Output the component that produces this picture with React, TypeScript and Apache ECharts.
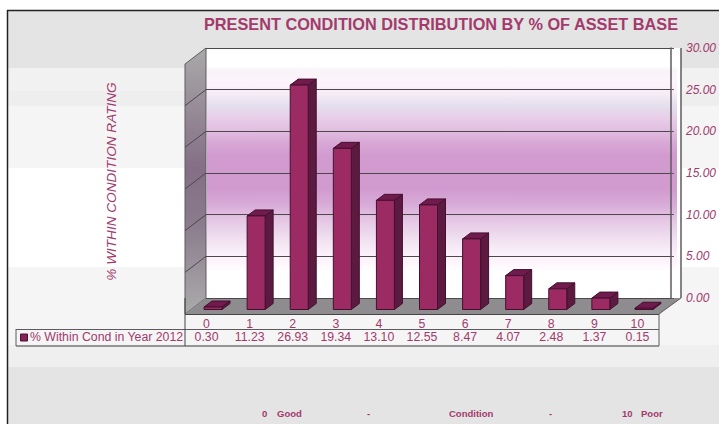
import React, { useEffect, useRef } from "react";
import * as echarts from "echarts";

// Share of the asset base at each condition rating, 2012
const conditions = ["0", "1", "2", "3", "4", "5", "6", "7", "8", "9", "10"];
const percentWithin = [0.3, 11.23, 26.93, 19.34, 13.1, 12.55, 8.47, 4.07, 2.48, 1.37, 0.15];
const valueLabels = ["0.30", "11.23", "26.93", "19.34", "13.10", "12.55", "8.47", "4.07", "2.48", "1.37", "0.15"];
const axisTicks = [0, 5, 10, 15, 20, 25, 30];

const titleText = "PRESENT CONDITION DISTRIBUTION BY % OF ASSET BASE";
const yAxisTitle = "% WITHIN CONDITION RATING";
const legendText = "% Within Cond in Year 2012";
const scaleNotes: [string, number][] = [
  ["0", 262],
  ["Good", 277],
  ["-", 367],
  ["Condition", 449],
  ["-", 549],
  ["10", 622],
  ["Poor", 641],
];

// Panel shading, top to bottom: [start y, end y, colour]
const panelBands: [number, number, string][] = [
  [11, 68, "#e4e4e4"],
  [68, 91, "#f1f1f1"],
  [91, 106, "#eeeeee"],
  [106, 168, "#f5f5f5"],
  [168, 267, "#ffffff"],
  [267, 345, "#f5f5f5"],
  [345, 367, "#f0eff0"],
  [367, 424, "#e4e4e4"],
];
// Back wall shading as gradient stops: [y, colour]
const wallStops: [number, string][] = [
  [48, "#ffffff"],
  [66, "#ffffff"],
  [70, "#f8f4f8"],
  [82, "#fdf4fb"],
  [94, "#f5ecf6"],
  [106, "#e4dfee"],
  [118, "#e8cde8"],
  [130, "#e2bfe1"],
  [142, "#d8a9d6"],
  [155, "#d29bd0"],
  [190, "#d29bd0"],
  [205, "#d8acd8"],
  [220, "#e5c6e4"],
  [232, "#ebd7ec"],
  [245, "#f5e7f4"],
  [254, "#faf0fa"],
  [263, "#fff5fc"],
  [272, "#ffffff"],
  [298, "#ffffff"],
];

const INK = "#a23a6c";
const LINE = "#5f5a5f";
const DEPTH_X = 8;
const DEPTH_Y = 6;
const BAR_W = 18;
const BAR_SHIFT = 6.5;

export default function App() {
  const ref = useRef<HTMLDivElement>(null);

  useEffect(() => {
    document.body.style.margin = "0";
    const chart = echarts.init(ref.current!, undefined, { renderer: "svg" });

    const seg = (x1: number, y1: number, x2: number, y2: number, color = LINE, width = 1, z = 20) => ({
      type: "line",
      z,
      shape: { x1, y1, x2, y2 },
      style: { stroke: color, lineWidth: width },
    });
    const label = (text: string, x: number, y: number, font: string, extra: object = {}) => ({
      type: "text",
      z: 20,
      x,
      y,
      style: { text, font, fill: INK, textVerticalAlign: "middle", ...extra },
    });

    const background: any[] = [
      { type: "rect", z: -30, shape: { x: 0, y: 0, width: 719, height: 424 }, style: { fill: "#ffffff" } },
      ...panelBands.map(([a, b, c]) => ({
        type: "rect",
        z: -29,
        shape: { x: 8, y: a, width: 711, height: b - a },
        style: { fill: c },
      })),
      { type: "rect", z: -28, shape: { x: 206, y: 48, width: 475, height: 250 }, style: { fill: "#ffffff" } },
      {
        type: "rect",
        z: -27,
        shape: { x: 207, y: 48, width: 470, height: 250 },
        style: {
          fill: new echarts.graphic.LinearGradient(
            0,
            0,
            0,
            1,
            wallStops.map(([y, color]) => ({ offset: (y - 48) / 250, color })),
          ),
        },
      },
      {
        type: "polygon",
        z: -26,
        shape: { points: [[206, 48], [185, 64], [185, 314], [206, 298]] },
        style: {
          stroke: LINE,
          lineWidth: 1,
          fill: new echarts.graphic.LinearGradient(0, 0, 0, 1, [
            { offset: 0, color: "#a9a9a9" },
            { offset: 0.45, color: "#846f86" },
            { offset: 0.65, color: "#8a7a8c" },
            { offset: 1, color: "#ababab" },
          ]),
        },
      },
      {
        type: "polygon",
        z: -26,
        shape: { points: [[206, 298], [681, 298], [659, 314], [185, 314]] },
        style: { fill: "#8e8c8e" },
      },
    ];

    const tableLines = [
      seg(7.5, 10, 7.5, 424, "#222222", 1.5),
      seg(7, 10.5, 719, 10.5, "#222222", 1.5),
      seg(681, 48, 681, 298, LINE, 1.5),
      seg(185, 314.5, 659, 314.5, "#444444"),
      seg(16, 329.5, 659, 329.5),
      seg(16, 346, 659, 346, "#777777", 1.5),
      seg(16, 329, 16, 346),
      seg(185, 298, 185, 346, "#444444"),
      seg(659, 314, 659, 346),
      seg(659, 314, 681, 298),
    ];

    const texts = [
      label(legendText, 30, 337, "12.3px 'Liberation Sans'"),
      label(yAxisTitle, 111, 181.5, "italic 13.6px 'Liberation Sans'", { textAlign: "center" }),
      ...scaleNotes.map(([t, x]) => label(t, x, 413, "bold 9.5px 'Liberation Sans'")),
    ];
    (texts[1] as any).rotation = Math.PI / 2;
    const swatch = {
      type: "rect",
      z: 20,
      shape: { x: 20.5, y: 334, width: 7, height: 7 },
      style: { fill: "#8a2056", stroke: "#4a1238", lineWidth: 1 },
    };

    chart.setOption({
      animation: false,
      title: {
        text: titleText,
        left: 436,
        top: 19,
        textAlign: "center",
        textVerticalAlign: "middle",
        textStyle: { fontFamily: "Liberation Sans", fontSize: 16.3, fontWeight: "bold", color: INK, lineHeight: 18 },
      },
      grid: [
        { left: 206, top: 48, width: 475, height: 250 },
        { left: 185, top: 59.5, width: 474, height: 250 },
      ],
      xAxis: [
        { type: "category", gridIndex: 0, data: conditions, show: false },
        {
          type: "category",
          gridIndex: 1,
          data: conditions,
          axisLine: { show: false },
          axisTick: { show: false },
          axisLabel: { color: INK, fontFamily: "Liberation Sans", fontSize: 12.3, margin: 8, interval: 0 },
        },
        {
          type: "category",
          gridIndex: 1,
          position: "bottom",
          data: valueLabels,
          axisLine: { show: false },
          axisTick: { show: false },
          axisLabel: { color: INK, fontFamily: "Liberation Sans", fontSize: 12.3, margin: 21, interval: 0 },
        },
      ],
      yAxis: [
        {
          type: "value",
          gridIndex: 0,
          position: "right",
          min: 0,
          max: 30,
          interval: 5,
          axisLine: { show: true, lineStyle: { color: LINE, width: 1.5 } },
          axisTick: { show: true, length: 3, lineStyle: { color: LINE } },
          splitLine: { show: true, lineStyle: { color: "#4d484d", width: 1 } },
          axisLabel: {
            color: INK,
            fontFamily: "Liberation Sans",
            fontStyle: "italic",
            fontSize: 12,
            margin: 15,
            formatter: (v: number) => v.toFixed(2),
          },
        },
        { type: "value", gridIndex: 1, min: 0, max: 30, show: false },
      ],
      series: [
        {
          // Gridlines continuing across the slanted left wall
          type: "custom",
          xAxisIndex: 0,
          yAxisIndex: 0,
          z: 1,
          silent: true,
          data: axisTicks.slice(1, -1).map((t) => [0, t]),
          renderItem: (params: any, api: any) => {
            const y = api.coord([0, api.value(1)])[1];
            const x = params.coordSys.x;
            return {
              type: "line",
              shape: { x1: x, y1: y, x2: x - 21, y2: y + 16 },
              style: { stroke: "#4d484d", lineWidth: 1 },
            };
          },
        },
        {
          // Extruded bars: front, side and top faces
          type: "custom",
          xAxisIndex: 1,
          yAxisIndex: 1,
          z: 5,
          data: percentWithin.map((v, i) => [i, v]),
          encode: { x: 0, y: 1 },
          renderItem: (_params: any, api: any) => {
            const [cx, top] = api.coord([api.value(0), api.value(1)]);
            const base = api.coord([api.value(0), 0])[1];
            const l = cx + BAR_SHIFT - BAR_W / 2;
            const r = l + BAR_W;
            const edge = { stroke: "#43102f", lineWidth: 1 };
            return {
              type: "group",
              children: [
                {
                  type: "polygon",
                  shape: { points: [[r, top], [r + DEPTH_X, top - DEPTH_Y], [r + DEPTH_X, base - DEPTH_Y], [r, base]] },
                  style: { fill: "#5c1a40", ...edge },
                },
                {
                  type: "polygon",
                  shape: { points: [[l, top], [l + DEPTH_X, top - DEPTH_Y], [r + DEPTH_X, top - DEPTH_Y], [r, top]] },
                  style: { fill: "#701a4d", ...edge },
                },
                {
                  type: "rect",
                  shape: { x: l, y: top, width: BAR_W, height: base - top },
                  style: { fill: "#9c2b63", ...edge },
                },
              ],
            };
          },
        },
      ],
      graphic: { elements: [...background, ...tableLines, ...texts, swatch] },
    });

    return () => chart.dispose();
  }, []);

  return <div ref={ref} style={{ width: 719, height: 424, position: "absolute", left: 0, top: 0 }} />;
}
